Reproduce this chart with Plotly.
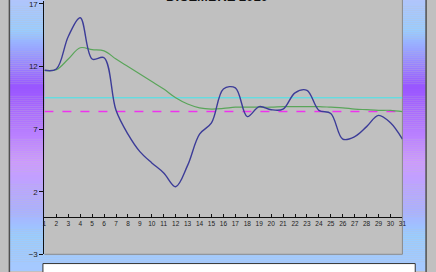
import plotly.graph_objects as go

W, H = 436, 272

days = list(range(1, 32))
daily_temp = [11.7, 11.8, 14.4, 15.9, 12.6, 12.7, 8.5, 6.6, 5.2, 4.3, 3.5, 2.4, 4.1, 6.6, 7.5,
              10.2, 10.3, 8.0, 8.8, 8.55, 8.6, 9.9, 10.1, 8.5, 8.25, 6.2, 6.4, 7.2, 8.1, 7.5, 6.2]
running_mean = [11.7, 11.75, 12.6, 13.5, 13.35, 13.25, 12.6, 12.0, 11.4, 10.8, 10.2, 9.5, 9.0, 8.7, 8.6,
                8.65, 8.75, 8.75, 8.75, 8.75, 8.8, 8.8, 8.8, 8.8, 8.75, 8.7, 8.6, 8.55, 8.5, 8.5, 8.4]
normal_value = 9.5
month_mean = 8.4
y_ticks = [-3, 2, 7, 12, 17]
title_text = "DICEMBRE 2010"


def px(x):
    return x / W


def py(y):
    return 1 - y / H


# gradient stops (pixel row, rgb)
stops = [(-5, (180, 196, 250)), (30, (153, 204, 255)), (88, (153, 85, 255)),
         (165, (204, 153, 255)), (215, (170, 176, 255)), (240, (153, 204, 255)),
         (280, (168, 200, 255))]


def grad(y):
    for (y0, c0), (y1, c1) in zip(stops[:-1], stops[1:]):
        if y0 <= y <= y1:
            t = (y - y0) / (y1 - y0)
            return "rgb(%d,%d,%d)" % tuple(round(a + (b - a) * t) for a, b in zip(c0, c1))
    return "rgb(168,200,255)"


shapes = []
for r in range(-4, 276, 2):
    shapes.append(dict(type="rect", xref="paper", yref="paper", layer="below",
                       x0=px(7.5), x1=px(430), y0=py(r + 2), y1=py(r),
                       fillcolor=grad(r + 1), line=dict(width=0)))
# panel border lines
for xx in (7.5, 430):
    shapes.append(dict(type="line", xref="paper", yref="paper", layer="below",
                       x0=px(xx), x1=px(xx), y0=py(280), y1=py(-5),
                       line=dict(color="#505050", width=1.5)))
# plot area
pl, pr, pb = 43, 406, 259
shapes.append(dict(type="rect", xref="paper", yref="paper", layer="below",
                   x0=px(pl), x1=px(pr), y0=py(pb), y1=py(-2),
                   fillcolor="#c0c0c0", line=dict(width=0)))
shapes.append(dict(type="line", xref="paper", yref="paper", layer="below",
                   x0=px(pr), x1=px(pr), y0=py(pb), y1=py(-2),
                   line=dict(color="#8a8a8a", width=1)))
shapes.append(dict(type="line", xref="paper", yref="paper", layer="below",
                   x0=px(pl), x1=px(pr), y0=py(pb), y1=py(pb),
                   line=dict(color="#8a8a8a", width=1)))
# legend box (cut off)
shapes.append(dict(type="rect", xref="paper", yref="paper", layer="below",
                   x0=px(41.5), x1=px(419), y0=py(280), y1=py(268.5),
                   fillcolor="white", line=dict(color="#333333", width=1)))

ymin, ymax = -3, 17 + 3 / 12.8
dom_bottom = py(pb)
zero_pos = dom_bottom + (0 - ymin) / (ymax - ymin) * (1 - dom_bottom)

fig = go.Figure()
fig.add_trace(go.Scatter(x=days, y=[normal_value] * len(days), mode="lines",
                         line=dict(color="#3ee8ee", width=1), hoverinfo="skip"))
fig.add_trace(go.Scatter(x=days, y=[month_mean] * len(days), mode="lines",
                         line=dict(color="#ee33ee", width=1.5, dash="dash"), hoverinfo="skip"))
fig.add_trace(go.Scatter(x=days, y=running_mean, mode="lines",
                         line=dict(color="#5aa55a", width=1.2, shape="spline", smoothing=1)))
fig.add_trace(go.Scatter(x=days, y=daily_temp, mode="lines",
                         line=dict(color="#3c3c98", width=1.4, shape="spline", smoothing=1)))

fig.add_annotation(text="<b>" + title_text + "</b>", xref="paper", yref="paper",
                   x=px(218), y=1, xanchor="center", yanchor="bottom", yshift=-5,
                   showarrow=False, font=dict(family="Liberation Sans, Arial", size=13, color="#111"))

fig.update_layout(
    width=W, height=H, margin=dict(l=0, r=0, t=0, b=0),
    paper_bgcolor="#c0c0c0", plot_bgcolor="rgba(0,0,0,0)",
    showlegend=False, shapes=shapes,
    font=dict(family="Liberation Sans, Arial", color="#222"),
    xaxis=dict(domain=[px(pl), px(pr)], range=[1, 31], tickmode="array", tickvals=days,
               ticktext=[str(d) for d in days], showgrid=False, zeroline=False,
               showline=True, linecolor="#111", linewidth=1, ticks="inside", ticklen=3,
               tickcolor="#111", tickfont=dict(size=6.5, color="#222"),
               anchor="free", position=zero_pos),
    yaxis=dict(domain=[dom_bottom, 1], range=[ymin, ymax], tickmode="array", tickvals=y_ticks,
               showgrid=False, zeroline=False, showline=True, linecolor="#111", linewidth=1,
               ticks="outside", ticklen=4, tickcolor="#111", tickfont=dict(size=8, color="#222"),
               ticklabeloverflow="allow"),
)

fig.write_html("out.html")
